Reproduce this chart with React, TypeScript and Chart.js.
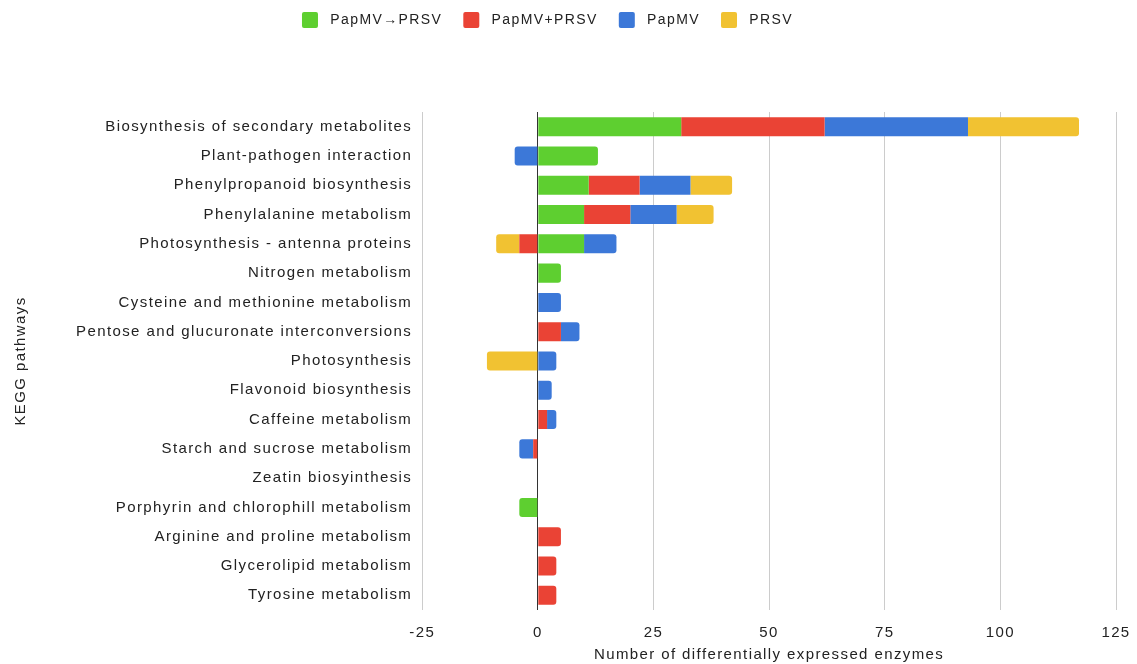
import React, { useEffect, useRef } from "react";
import { Chart, registerables } from "chart.js";

Chart.register(...registerables);

const categories = [
  "Biosynthesis of secondary metabolites",
  "Plant-pathogen interaction",
  "Phenylpropanoid biosynthesis",
  "Phenylalanine metabolism",
  "Photosynthesis - antenna proteins",
  "Nitrogen metabolism",
  "Cysteine and methionine metabolism",
  "Pentose and glucuronate interconversions",
  "Photosynthesis",
  "Flavonoid biosynthesis",
  "Caffeine metabolism",
  "Starch and sucrose metabolism",
  "Zeatin biosyinthesis",
  "Porphyrin and chlorophill metabolism",
  "Arginine and proline metabolism",
  "Glycerolipid metabolism",
  "Tyrosine metabolism",
];

const seriesNames = ["PapMV\u2192PRSV", "PapMV+PRSV", "PapMV", "PRSV"];
const papmvToPrsv = [31, 13, 11, 10, 10, 5, 0, 0, 0, 0, 0, 0, 0, -4, 0, 0, 0];
const papmvPlusPrsv = [31, 0, 11, 10, -4, 0, 0, 5, 0, 0, 2, -1, 0, 0, 5, 4, 4];
const papmv = [31, -5, 11, 10, 7, 0, 5, 4, 4, 3, 2, -3, 0, 0, 0, 0, 0];
const prsv = [24, 0, 9, 8, -5, 0, 0, 0, -11, 0, 0, 0, 0, 0, 0, 0, 0];
const seriesColors = ["#5ecf30", "#ea4335", "#3c78d8", "#f1c232"];
const xTicks = [-25, 0, 25, 50, 75, 100, 125];

const FONT = "'Liberation Sans', Arial, sans-serif";
const SPACING = "1.4px";

export default function App() {
  const ref = useRef<HTMLCanvasElement | null>(null);

  useEffect(() => {
    if (!ref.current) return;
    const values = [papmvToPrsv, papmvPlusPrsv, papmv, prsv];
    const legendGap = {
      id: "legendGap",
      beforeInit(chart: any) {
        const orig = chart.legend.fit;
        chart.legend.fit = function () {
          orig.bind(this)();
          this.height += 62;
        };
      },
      afterLayout(chart: any) {
        const lg = chart.legend;
        lg.left -= 27;
        lg.right -= 27;
        lg.top -= 12;
        lg.bottom -= 12;
      },
    };
    const spacing = {
      id: "spacing",
      afterInit(chart: any) {
        chart.ctx.letterSpacing = SPACING;
      },
      beforeUpdate(chart: any) {
        chart.ctx.letterSpacing = SPACING;
      },
      beforeDraw(chart: any) {
        chart.ctx.letterSpacing = SPACING;
      },
    };
    const chart = new Chart(ref.current, {
      type: "bar",
      data: {
        labels: categories,
        datasets: seriesNames.map((name, i) => ({
          label: name,
          data: values[i].map((v) => (v === 0 ? null : v)),
          backgroundColor: seriesColors[i],
          borderWidth: 0,
          borderRadius: 3,
          barPercentage: 0.65,
          categoryPercentage: 1,
        })),
      },
      plugins: [legendGap, spacing],
      options: {
        indexAxis: "y",
        animation: false,
        responsive: false,
        maintainAspectRatio: false,
        layout: { padding: { top: 3, right: 0, left: 12, bottom: 0 } },
        font: { family: FONT },
        plugins: {
          legend: {
            position: "top",
            labels: {
              font: { family: FONT, size: 14 },
              color: "#222",
              boxWidth: 16,
              boxHeight: 16,
              useBorderRadius: true,
              borderRadius: 2,
              padding: 21,
              generateLabels(chart: any) {
                const items = Chart.defaults.plugins.legend.labels.generateLabels(chart);
                return items.map((it: any) => ({ ...it, text: " " + it.text }));
              },
            },
          },
          tooltip: { enabled: false },
        },
        scales: {
          x: {
            stacked: true,
            min: -25,
            max: 125,
            afterBuildTicks(axis: any) {
              axis.ticks = xTicks.map((v) => ({ value: v }));
            },
            afterFit(axis: any) {
              axis.paddingRight = 21;
            },
            border: { display: false },
            grid: {
              color: (ctx: any) => (ctx.tick && ctx.tick.value === 0 ? "#333" : "#cccccc"),
              lineWidth: 1,
              drawTicks: false,
            },
            ticks: {
              font: { family: FONT, size: 15 },
              color: "#222",
              padding: 14,
            },
            title: {
              display: true,
              text: "Number of differentially expressed enzymes",
              font: { family: FONT, size: 15 },
              color: "#222",
              padding: { top: -10, bottom: 0 },
            },
          },
          y: {
            stacked: true,
            border: { display: false },
            grid: { display: false },
            ticks: {
              font: { family: FONT, size: 15 },
              color: "#222",
              padding: 2,
              autoSkip: false,
            },
            title: {
              display: true,
              text: "KEGG pathways",
              font: { family: FONT, size: 15 },
              color: "#222",
              padding: { top: 0, bottom: 44 },
            },
          },
        },
      },
    });
    return () => chart.destroy();
  }, []);

  return (
    <div style={{ position: "absolute", left: 0, top: 0, width: 1137, height: 664, background: "#fff" }}>
      <canvas ref={ref} width={1137} height={664} style={{ width: 1137, height: 664 }} />
    </div>
  );
}
